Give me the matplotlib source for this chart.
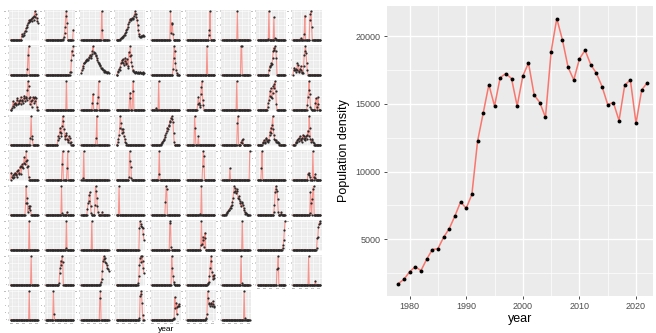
import numpy as np
import matplotlib
matplotlib.use("Agg")
import matplotlib.pyplot as plt
from matplotlib.ticker import MultipleLocator

plt.rcParams['font.family'] = ['Liberation Sans', 'DejaVu Sans']

# yearly density for the whole study area
big_year = list(range(1978, 2023))
big_density = [1730, 2050, 2610, 2980, 2690, 3520, 4240, 4310, 5150, 5790,
               6720, 7760, 7290, 8320, 12230, 14320, 16410, 14840, 16930, 17230,
               16860, 14840, 17050, 18010, 15650, 15090, 14000, 18850, 21290, 19710,
               17690, 16760, 18310, 18950, 17890, 17250, 16270, 14940, 15090, 13760,
               16370, 16760, 13560, 16020, 16560]

# per-cell series (relative density), as (first year, values) runs; other years are 0
facet_years = list(range(1978, 2023))
facet_runs = [
    # row 1
    [(1996, [20, 12, 14, 18, 25, 30, 32, 40, 45, 50, 58, 68, 62, 70, 66, 72, 65, 75, 80, 70, 85, 100, 80, 90, 75, 65, 60])],
    [(2006, [3, 10, 25, 45, 85, 100, 60]), (2022, [35])],
    [(2011, [100, 35])],
    [(1984, [2, 5, 6, 8, 10, 12, 15, 18, 22, 28, 35, 38, 45, 55, 62, 70, 72, 74, 70, 75, 72, 78, 85, 90, 100, 92, 80, 68, 50, 35, 20, 12, 8, 10, 14, 12, 15, 13, 12])],
    [(2008, [100, 25, 60, 55, 20])],
    [(2013, [15, 35, 100])],
    [(2002, [100])],
    [(1995, [3, 100]), (2004, [80, 0, 4, 3])],
    [(1990, [5]), (1996, [20, 85]), (2005, [70, 90, 100, 45])],
    # row 2
    [(2005, [20, 70, 100])],
    [(2017, [8, 10, 50, 85, 70, 100])],
    [(1978, [5, 15, 25, 32, 40, 42, 45, 50, 48, 55, 52, 50, 58, 62, 70, 65, 60, 72, 85, 100, 80, 78, 75, 70, 65, 58, 50, 45, 40, 38, 35, 30, 25, 22, 20, 18, 15, 10, 8, 12, 10, 5, 8, 10, 5])],
    [(1980, [8, 12, 20, 15, 28, 40, 50, 45, 55, 40, 35, 48, 60, 42, 38, 55, 30, 25, 80, 65, 100, 70, 45, 30, 18, 12, 10, 8, 5, 8, 10, 6, 4, 8, 5, 7, 10, 6, 4, 5, 8, 3, 5])],
    [(2012, [20, 60, 100, 85, 40, 15, 5])],
    [(2010, [100])],
    [(2008, [100, 100])],
    [(1996, [15, 28, 32, 35, 40, 38, 60, 82, 95, 88, 100, 85, 60])],
    [(1979, [15, 25, 18, 20, 10, 15, 40, 35, 12, 8, 20, 30, 15, 5, 8, 5, 30, 70, 85, 100, 75, 40, 15])],
    # row 3
    [(1980, [5, 12, 30, 20, 10, 25, 15, 20, 35, 40, 20, 30, 25, 35, 45, 20, 30, 35, 25, 40, 50, 30, 40, 45, 35, 70, 100, 85, 40, 20, 45, 30, 10, 35, 45, 40, 25, 45, 30, 40, 10])],
    [(2011, [100])],
    [(1996, [25, 55]), (2004, [25, 45, 100])],
    [(1999, [40, 60]), (2004, [65, 100])],
    [(1985, [6]), (1989, [100])],
    [(1995, [20, 45, 25, 10, 15, 55, 80, 100, 35, 15])],
    [(2001, [100])],
    [(1994, [10, 25, 35, 50, 65, 75, 45, 40, 60, 85, 75, 90, 100, 65, 20])],
    [(2001, [15, 45, 70, 100, 55, 10, 3]), (2014, [25, 40, 10, 0, 45, 20])],
    # row 4
    [(2010, [25, 100, 30, 20])],
    [(1997, [15, 30, 25, 45, 60, 40, 30, 65, 100, 85, 55, 30, 20, 35, 40, 20, 10, 15, 30, 25, 5, 10])],
    [(2002, [25, 100])],
    [(1980, [10, 20, 35, 60, 100, 75, 55, 40, 45, 55, 30, 20, 10, 5])],
    [(1993, [3, 5, 8, 12, 15, 20, 28, 35, 40, 50, 60, 55, 65, 70, 85, 80, 95, 100, 90, 80, 40, 10])],
    [(1990, [100, 60]), (1996, [30])],
    [(2002, [75, 100]), (2008, [8, 5, 15, 20])],
    [(1986, [5, 8, 15, 5, 10, 20, 25, 12, 18, 10, 15, 35, 45, 60, 40, 70, 100, 55, 35, 20, 15, 10, 15, 8, 5, 10, 5])],
    [(1982, [5, 10, 8, 15, 20, 12, 25, 30, 15, 20, 10, 25, 35, 20, 30, 15, 25, 30, 20, 35, 50, 30, 100, 60, 20, 10, 15, 20, 8, 5])],
    # row 5
    [(1979, [25, 10, 5, 15, 20, 8, 25, 15, 20, 30, 10, 35, 25, 20, 45, 50, 20, 45, 55, 40, 60, 80, 55, 65, 100, 70, 45, 50, 10])],
    [(2004, [55, 100]), (2012, [40, 100])],
    [(1981, [5, 100])],
    [(1998, [10, 100, 65, 45, 5])],
    [(1989, [20, 100])],
    [(2003, [50, 100, 85])],
    [(1990, [40]), (2022, [100])],
    [(1984, [40, 100])],
    [(2002, [20, 25, 15, 10]), (2010, [100, 10, 0, 5, 20])],
    # row 6
    [(2002, [40, 100, 60, 40, 10, 30, 25, 30, 15])],
    [(2003, [100, 5]), (2012, [10])],
    [(1988, [20, 40, 50, 70, 80, 30, 5]), (2000, [35, 100, 85, 60, 30, 10]), (2012, [10])],
    [(1982, [100])],
    [(2000, [45, 100, 90])],
    [(1999, [3]), (2001, [100])],
    [(1984, [3, 5, 10, 12, 18, 15, 22, 25, 30, 35, 45, 60, 80, 100, 95, 85, 75, 90, 85, 60, 55, 65, 50, 40, 30, 45, 40, 35, 25, 15, 8, 3, 5, 2])],
    [(2004, [10, 35, 80, 100, 90, 85, 55, 10]), (2015, [3, 8])],
    [(2005, [5, 80, 40, 0, 55, 90, 100])],
    # row 7
    [(2008, [100])],
    [(2010, [5, 100])],
    [(1995, [100])],
    [(2015, [75, 100, 90, 85, 80, 75, 55, 35])],
    [(2007, [95, 100, 10])],
    [(2000, [15, 100, 20, 45, 35, 10, 40, 60])],
    [(2010, [100])],
    [(2018, [5, 15, 35, 70, 100])],
    [(2016, [5, 40, 45, 80, 90, 100, 95])],
    # row 8
    [(2011, [100])],
    [(1999, [5, 40, 60, 85, 70, 100, 80])],
    [(2009, [3, 8, 20, 50, 85, 100, 90, 95, 80, 75, 70, 60, 55, 50])],
    [(2013, [5, 30, 70, 95, 100, 80, 100, 85, 60, 40])],
    [(2010, [100, 60, 30, 10, 3])],
    [(2011, [3, 5, 10, 30, 60, 85, 100, 45, 20, 30, 35, 25])],
    [(2008, [100, 5])],
    [(2009, [55, 60, 100])],
    [(2003, [100]), (2014, [12])],
    # row 9
    [(2008, [100])],
    [(1990, [100, 20])],
    [(2008, [75, 100])],
    [(2015, [5, 85, 90, 100, 60, 15])],
    [(2012, [2, 3, 5, 80, 40, 60, 20, 45, 50, 55, 50])],
    [(2008, [3, 5, 20, 100, 75, 60, 55, 50, 55, 60, 50, 65, 55, 50, 45])],
    [(2013, [100, 5])],
]

RED = '#F8766D'
PANEL = '#EBEBEB'
W, H = 656, 333

fig = plt.figure(figsize=(W / 100, H / 100), dpi=100)

def expand(series):
    vals = np.zeros(len(facet_years))
    for start, run in series:
        for k, v in enumerate(run):
            idx = start - facet_years[0] + k
            if 0 <= idx < len(vals):
                vals[idx] = v
    return vals

ncol = 9
n = len(facet_runs)
for k, series in enumerate(facet_runs):
    i, j = divmod(k, ncol)
    left = (9.3 + 35.3 * j) / W
    top = (10 + 35 * i) / H
    ax = fig.add_axes([left, 1 - top - 31 / H, 30 / W, 31 / H])
    vals = expand(series)
    ax.plot(facet_years, vals, color=RED, lw=0.8, alpha=0.75, zorder=2)
    ax.plot(facet_years, vals, 'o', color='#2a2a2a', ms=1.6, mew=0, zorder=3)
    ax.set_facecolor(PANEL)
    ax.set_xlim(1975.8, 2024.2)
    ax.set_ylim(-5, 105)
    ax.xaxis.set_major_locator(MultipleLocator(10))
    ax.xaxis.set_minor_locator(MultipleLocator(5))
    ax.yaxis.set_major_locator(MultipleLocator(25))
    ax.yaxis.set_minor_locator(MultipleLocator(12.5))
    ax.grid(which='major', color='white', lw=0.4)
    ax.grid(which='minor', color='white', lw=0.2)
    ax.set_axisbelow(True)
    for s in ax.spines.values():
        s.set_visible(False)
    ax.tick_params(which='major', length=1, width=0.3, color='#333333',
                   labelsize=1.4, pad=0.5, labelcolor='#4D4D4D')
    ax.tick_params(which='minor', length=0)
    # only the lowest cell in each column carries the year axis
    if k + ncol < n:
        ax.tick_params(axis='x', which='major', length=0, labelbottom=False)

fig.text(166 / W, 1 - 329.5 / H, 'year', ha='center', va='center', fontsize=6)

# overall trend
ax = fig.add_axes([387 / W, 1 - 296 / H, (653 - 387) / W, (296 - 6) / H])
ax.plot(big_year, big_density, color=RED, lw=1.1, zorder=2)
ax.plot(big_year, big_density, 'o', color='black', ms=2.8, mew=0, zorder=3)
ax.set_facecolor(PANEL)
ax.set_xlim(1976, 2023)
ax.set_ylim(818, 22214)
ax.xaxis.set_major_locator(MultipleLocator(10))
ax.xaxis.set_minor_locator(MultipleLocator(5))
ax.yaxis.set_major_locator(MultipleLocator(5000))
ax.yaxis.set_minor_locator(MultipleLocator(2500))
ax.grid(which='major', color='white', lw=1.0)
ax.grid(which='minor', color='white', lw=0.5)
ax.set_axisbelow(True)
for s in ax.spines.values():
    s.set_visible(False)
ax.tick_params(which='major', length=2.5, width=0.6, color='#333333',
               labelsize=6.5, labelcolor='#4D4D4D', pad=2)
ax.tick_params(which='minor', length=0)
ax.set_xlabel('year', fontsize=9, labelpad=1)
ax.set_ylabel('Population density', fontsize=9, labelpad=4)

fig.savefig('out.png', dpi=100)
